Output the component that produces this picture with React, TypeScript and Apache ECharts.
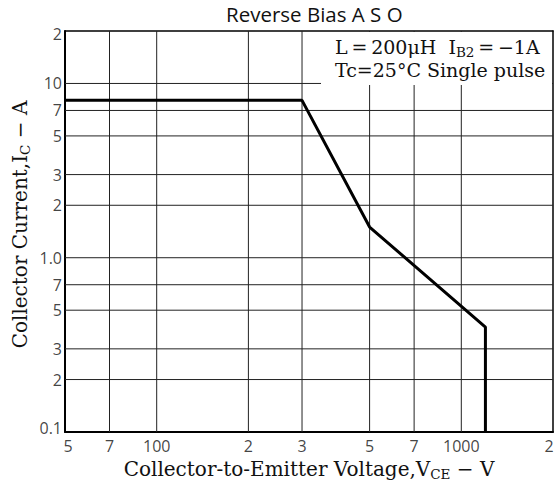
import React, { useEffect, useRef } from "react";
import * as echarts from "echarts";

// Tick values and their printed labels
const xTickValues = [50, 70, 100, 200, 300, 500, 700, 1000, 2000];
const xTickLabels = ["5", "7", "100", "2", "3", "5", "7", "1000", "2"];
const yTickValues = [0.1, 0.2, 0.3, 0.5, 0.7, 1, 2, 3, 5, 7, 10, 20];
const yTickLabels = ["0.1", "2", "3", "5", "7", "1.0", "2", "3", "5", "7", "10", "2"];

// Reverse bias ASO boundary (V_CE in V, I_C in A)
const vce = [50, 300, 500, 1200, 1200];
const ic = [8, 8, 1.5, 0.4, 0.1];

const SERIF = "'DejaVu Serif', 'Liberation Serif', serif";
const SANS = "'Open Sans', 'Noto Sans', sans-serif";
const TS = "\u2009"; // thin space

export default function App() {
  const ref = useRef<HTMLDivElement>(null);
  useEffect(() => {
    if (!ref.current) return;
    const chart = echarts.init(ref.current, undefined, { renderer: "svg" });

    const xMin = xTickValues[0];
    const xMax = xTickValues[xTickValues.length - 1];
    const yMin = yTickValues[0];
    const yMax = yTickValues[yTickValues.length - 1];

    const gridStyle = { color: "#222", width: 1, type: "solid" };

    const vGridSeries = xTickValues
      .filter((v) => v !== xMin && v !== xMax)
      .map((v) => ({
        type: "line",
        silent: true,
        symbol: "none",
        z: 1,
        lineStyle: gridStyle,
        data: [
          [v, yMin],
          [v, yMax],
        ],
      }));
    const hGridSeries = yTickValues
      .filter((v) => v !== yMin && v !== yMax)
      .map((v) => ({
        type: "line",
        silent: true,
        symbol: "none",
        z: 1,
        lineStyle: gridStyle,
        data: [
          [xMin, v],
          [xMax, v],
        ],
      }));

    const labelText = { fontFamily: SANS, fontSize: 16, color: "#111" };

    const xLabelSeries = {
      type: "scatter",
      silent: true,
      clip: false,
      symbolSize: 0,
      itemStyle: { color: "transparent" },
      z: 2,
      data: xTickValues.map((v, i) => ({
        value: [v, yMin],
        label: {
          show: true,
          position: "bottom",
          distance: 6,
          formatter: xTickLabels[i],
          offset: i === 0 ? [3, 0] : i === xTickValues.length - 1 ? [-4, 0] : [0, 0],
          ...labelText,
        },
      })),
    };
    const yLabelSeries = {
      type: "scatter",
      silent: true,
      clip: false,
      symbolSize: 0,
      itemStyle: { color: "transparent" },
      z: 2,
      data: yTickValues.map((v, i) => ({
        value: [xMin, v],
        label: {
          show: true,
          position: "left",
          distance: 3,
          formatter: yTickLabels[i],
          offset: i === 0 ? [0, -4] : i === yTickValues.length - 1 ? [0, 3] : [0, 0],
          ...labelText,
        },
      })),
    };

    const nameRich = {
      a: { fontFamily: SERIF, fontSize: 20, color: "#111", lineHeight: 25, verticalAlign: "middle" },
      s: { fontFamily: SERIF, fontSize: 13.5, color: "#111", lineHeight: 14, verticalAlign: "bottom" },
    };

    const hiddenAxisParts = {
      axisTick: { show: false },
      axisLabel: { show: false },
      splitLine: { show: false },
    };

    chart.setOption({
      animation: false,
      backgroundColor: "#fff",
      title: {
        text: "Reverse Bias A S O",
        left: 226,
        top: 3,
        padding: 0,
        textStyle: { fontFamily: SANS, fontSize: 20.5, fontWeight: "normal", color: "#111" },
      },
      grid: {
        left: 65,
        right: 7,
        top: 31,
        bottom: 54,
        containLabel: false,
        outerBoundsMode: "none",
      },
      xAxis: [
        {
          type: "log",
          logBase: 10,
          min: xMin,
          max: xMax,
          position: "bottom",
          axisLine: { show: true, lineStyle: { color: "#000", width: 2 } },
          ...hiddenAxisParts,
          name: "{a|Collector-to-Emitter Voltage,V}{s|CE}{a| − V}",
          nameLocation: "middle",
          nameGap: 24,
          nameTextStyle: { rich: nameRich },
        },
        {
          type: "log",
          logBase: 10,
          min: xMin,
          max: xMax,
          position: "top",
          axisLine: { show: true, onZero: false, lineStyle: { color: "#000", width: 1.5 } },
          ...hiddenAxisParts,
        },
      ],
      yAxis: [
        {
          type: "log",
          logBase: 10,
          min: yMin,
          max: yMax,
          position: "left",
          axisLine: { show: true, lineStyle: { color: "#000", width: 2 } },
          ...hiddenAxisParts,
          name: "{a|Collector Current,I}{s|C}{a| − A}",
          nameLocation: "middle",
          nameRotate: 90,
          nameGap: 33,
          nameTextStyle: { rich: nameRich, padding: [0, 0, 0, 14] },
        },
        {
          type: "log",
          logBase: 10,
          min: yMin,
          max: yMax,
          position: "right",
          axisLine: { show: true, onZero: false, lineStyle: { color: "#000", width: 1.5 } },
          ...hiddenAxisParts,
        },
      ],
      series: [
        ...vGridSeries,
        ...hGridSeries,
        xLabelSeries,
        yLabelSeries,
        {
          type: "line",
          name: "RBSOA",
          data: vce.map((v, i) => [v, ic[i]]),
          symbol: "none",
          z: 5,
          lineStyle: { color: "#000", width: 3 },
        },
      ],
      graphic: [
        {
          type: "rect",
          z: 100,
          shape: { x: 321, y: 32, width: 231, height: 53 },
          style: { fill: "#fff" },
        },
        {
          type: "text",
          z: 101,
          x: 335,
          y: 47,
          style: {
            text: `{a|L${TS}=${TS}200μH  I}{s|B2}{a|${TS}=${TS}−1A}`,
            verticalAlign: "middle",
            rich: {
              a: { fontFamily: SERIF, fontSize: 19, fill: "#111", lineHeight: 24, verticalAlign: "middle" },
              s: { fontFamily: SERIF, fontSize: 13.5, fill: "#111", lineHeight: 14, verticalAlign: "bottom" },
            },
          },
        },
        {
          type: "text",
          z: 101,
          x: 335,
          y: 70,
          style: {
            text: "Tc=25°C Single pulse",
            verticalAlign: "middle",
            font: `19px ${SERIF}`,
            fill: "#111",
          },
        },
      ],
    });
    return () => chart.dispose();
  }, []);
  return (
    <div
      ref={ref}
      style={{ position: "absolute", left: 0, top: 0, width: 560, height: 486 }}
    />
  );
}
